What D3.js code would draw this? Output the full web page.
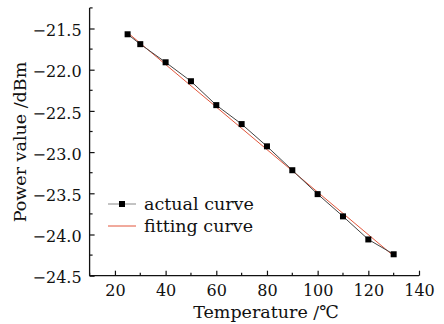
<!DOCTYPE html>
<html>
<head>
<meta charset="utf-8">
<script src="https://cdn.jsdelivr.net/npm/d3@7"></script>
<style>
  body { margin: 0; background: #fff; }
  text { font-family: "DejaVu Serif", serif; fill: #111; }
</style>
</head>
<body>
<div id="chart"></div>
<script>
/* Data */
let temperature = [25, 30, 40, 50, 60, 70, 80, 90, 100, 110, 120, 130];
let power = [-21.57, -21.69, -21.91, -22.14, -22.43, -22.66, -22.93, -23.22, -23.51, -23.78, -24.06, -24.24];
let fitTemperature = [25, 130];
let fitPower = [-21.55, -24.26];
let xTicks = [20, 40, 60, 80, 100, 120, 140];
let yTicks = [-21.5, -22.0, -22.5, -23.0, -23.5, -24.0, -24.5];
let legendLabels = ['actual curve', 'fitting curve'];

/* Dimensions */
let width = 444, height = 324;

let svg = d3.select('#chart')
  .append('svg')
  .attr('width', width)
  .attr('height', height);

let x = d3.scaleLinear().domain([10, 140]).range([89.6, 419]);
let y = d3.scaleLinear().domain([-24.5, -21.25]).range([275.7, 7.9]);

// Axes: inward ticks, minor ticks in between
let xMinor = d3.range(10, 141, 10).filter(v => v % 20 !== 0);
let yMinor = d3.range(-24.25, -21.2, 0.5);

let xAxisG = svg.append('g').attr('transform', 'translate(0,' + y(-24.5) + ')');
xAxisG.call(d3.axisBottom(x).tickValues(xTicks).tickSize(-5).tickPadding(9).tickFormat(d3.format('d')));
xAxisG.append('g').selectAll('line')
  .data(xMinor).enter().append('line')
  .attr('x1', d => x(d)).attr('x2', d => x(d))
  .attr('y1', 0).attr('y2', -3)
  .attr('stroke', '#111').attr('stroke-width', 1.2);

let yAxisG = svg.append('g').attr('transform', 'translate(' + x(10) + ',0)');
yAxisG.call(d3.axisLeft(y).tickValues(yTicks).tickSize(-5).tickPadding(8).tickFormat(d => d3.format('.1f')(d).replace('-', '\u2212')));
yAxisG.append('g').selectAll('line')
  .data(yMinor).enter().append('line')
  .attr('y1', d => y(d)).attr('y2', d => y(d))
  .attr('x1', 0).attr('x2', 3)
  .attr('stroke', '#111').attr('stroke-width', 1.2);

[xAxisG, yAxisG].forEach(g => {
  g.select('.domain').attr('stroke', '#111').attr('stroke-width', 1.3);
  g.selectAll('.tick line').attr('stroke', '#111').attr('stroke-width', 1.2);
  g.selectAll('.tick text').style('font-size', '16px').attr('fill', '#111');
});
xAxisG.select('.domain').attr('d', 'M' + x(10) + ',0H' + x(140));
yAxisG.select('.domain').attr('d', 'M0,' + y(-24.5) + 'V' + y(-21.25));
yAxisG.selectAll('.tick text').attr('dy', '0.45em');

// Axis titles
svg.append('text')
  .attr('x', 266).attr('y', 318)
  .attr('text-anchor', 'middle')
  .style('font-size', '17.5px')
  .text('Temperature /\u2103');

svg.append('text')
  .attr('transform', 'translate(26,142) rotate(-90)')
  .attr('text-anchor', 'middle')
  .style('font-size', '17.5px')
  .text('Power value /dBm');

// Fitting curve
let line = d3.line().x(d => x(d[0])).y(d => y(d[1]));
svg.append('path')
  .datum(fitTemperature.map((t, i) => [t, fitPower[i]]))
  .attr('d', line)
  .attr('fill', 'none')
  .attr('stroke', '#e2553a')
  .attr('stroke-width', 1);

// Actual curve
let actual = temperature.map((t, i) => [t, power[i]]);
svg.append('path')
  .datum(actual)
  .attr('d', line)
  .attr('fill', 'none')
  .attr('stroke', '#444')
  .attr('stroke-width', 1);

svg.selectAll('.marker')
  .data(actual).enter().append('rect')
  .attr('class', 'marker')
  .attr('x', d => x(d[0]) - 3)
  .attr('y', d => y(d[1]) - 3)
  .attr('width', 6).attr('height', 6)
  .attr('fill', '#000');

/* Legend */
let legend = svg.append('g').attr('transform', 'translate(108,204)');
legend.append('line')
  .attr('x1', 0).attr('x2', 28).attr('y1', 0).attr('y2', 0)
  .attr('stroke', '#888').attr('stroke-width', 1);
legend.append('rect')
  .attr('x', 11).attr('y', -3).attr('width', 6).attr('height', 6).attr('fill', '#000');
legend.append('line')
  .attr('x1', 0).attr('x2', 28).attr('y1', 22).attr('y2', 22)
  .attr('stroke', '#e2553a').attr('stroke-width', 1);
legend.selectAll('.legend-text')
  .data(legendLabels).enter().append('text')
  .attr('class', 'legend-text')
  .attr('x', 36)
  .attr('y', (d, i) => i * 22)
  .attr('dy', '0.35em')
  .style('font-size', '17.5px')
  .text(d => d);
</script>
</body>
</html>
